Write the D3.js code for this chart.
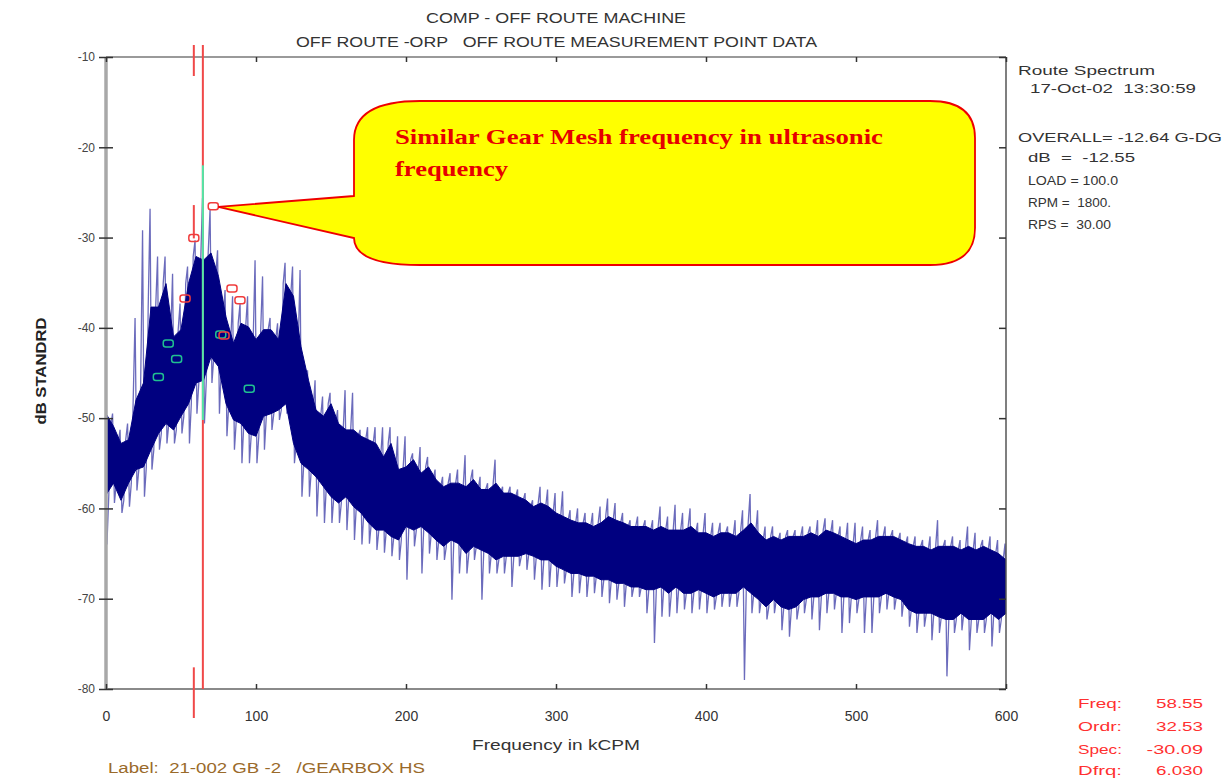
<!DOCTYPE html>
<html>
<head>
<meta charset="utf-8">
<script src="https://cdn.jsdelivr.net/npm/d3@7"></script>
<style>
  body { margin: 0; background: #fff; }
  text { font-family: Arial, "Liberation Sans", sans-serif; white-space: pre; }
  text.serif { font-family: "Liberation Serif", "Times New Roman", serif; }
</style>
</head>
<body>
<svg id="chart" width="1231" height="779"></svg>
<script>
// Spectrum, one entry per 5 kCPM bin from 0 to 600.
// peak/trough = tips of the thin spikes, coreHi/coreLo = edges of the dense band (dB)
var binWidth = 5;
var peakDb = [
  -49.0, -49.5, -51.3, -50.6, -38.9, -29.2, -26.8, -32.1, -32.1, -34.0,
  -37.3, -33.2, -30.3, -25.6, -26.9, -31.4, -35.8, -36.5, -37.3, -36.5,
  -32.5, -34.3, -38.9, -39.5, -32.8, -33.2, -33.6, -44.7, -45.8, -47.6,
  -47.2, -49.1, -46.9, -47.2, -51.3, -51.0, -51.0, -51.0, -51.0, -52.0,
  -52.0, -53.9, -53.2, -54.3, -55.7, -56.5, -56.1, -55.7, -54.1, -55.7,
  -56.5, -57.2, -54.6, -57.6, -57.6, -57.9, -58.3, -59.1, -57.6, -57.9,
  -58.3, -58.1, -60.2, -60.0, -60.5, -60.5, -59.8, -58.9, -59.4, -60.5,
  -61.3, -60.9, -61.3, -61.3, -59.8, -60.9, -59.6, -60.5, -60.0, -61.6,
  -60.5, -61.6, -61.6, -62.0, -61.3, -60.2, -58.4, -60.2, -62.0, -62.0,
  -62.7, -62.4, -62.4, -62.0, -62.0, -61.3, -61.1, -61.3, -62.0, -61.6,
  -61.6, -62.0, -62.4, -61.3, -62.0, -62.4, -62.7, -63.1, -63.1, -63.5,
  -63.1, -61.3, -63.5, -63.1, -63.5, -62.0, -62.7, -63.5, -63.1, -63.5,
  -63.9
];
var coreHiDb = [
  -49.5, -50.9, -52.8, -52.4, -48.0, -46.1, -37.7, -37.7, -35.1, -41.0,
  -40.2, -35.1, -32.1, -32.5, -31.7, -34.3, -38.8, -41.7, -39.5, -39.9,
  -41.3, -40.2, -40.2, -41.3, -35.1, -36.5, -42.1, -45.8, -49.1, -49.8,
  -48.4, -50.6, -51.3, -51.3, -52.0, -52.4, -52.8, -54.3, -52.8, -55.7,
  -55.4, -54.6, -56.1, -55.4, -56.8, -57.6, -57.2, -57.2, -57.6, -56.8,
  -57.9, -57.9, -57.2, -58.3, -58.3, -58.7, -59.1, -59.8, -59.4, -59.8,
  -60.5, -60.9, -61.3, -61.6, -61.6, -62.0, -61.6, -60.9, -61.3, -61.6,
  -62.0, -62.0, -62.0, -62.4, -62.0, -62.4, -62.4, -62.4, -62.0, -62.7,
  -62.7, -63.1, -62.7, -62.7, -63.1, -62.4, -61.6, -62.7, -63.5, -63.1,
  -63.5, -63.1, -63.1, -63.1, -62.7, -63.1, -62.4, -62.7, -63.1, -63.5,
  -63.9, -63.5, -63.5, -63.1, -63.1, -63.1, -63.5, -63.9, -64.2, -64.2,
  -64.6, -64.2, -64.2, -64.2, -64.6, -64.2, -64.6, -64.2, -64.6, -65.0,
  -65.7
];
var coreLoDb = [
  -58.5, -57.2, -59.1, -57.2, -55.7, -55.4, -53.5, -51.7, -50.6, -51.3,
  -49.8, -48.4, -46.1, -45.8, -43.2, -44.3, -48.4, -50.2, -50.6, -51.7,
  -52.0, -49.8, -49.5, -49.1, -48.4, -52.8, -55.0, -55.7, -56.5, -57.6,
  -58.7, -59.4, -58.7, -59.8, -60.5, -61.6, -62.4, -62.4, -63.1, -63.5,
  -62.0, -62.4, -62.0, -62.7, -63.5, -64.2, -63.5, -63.9, -65.0, -64.2,
  -64.6, -65.0, -65.7, -65.3, -65.3, -65.3, -65.0, -65.3, -65.7, -65.7,
  -66.4, -66.8, -67.2, -67.2, -67.5, -67.5, -67.9, -67.9, -68.3, -68.3,
  -68.7, -68.7, -69.0, -69.0, -68.7, -69.4, -68.7, -69.4, -69.4, -69.0,
  -69.4, -69.8, -69.4, -69.4, -69.4, -68.7, -69.4, -70.1, -70.9, -70.1,
  -70.9, -71.2, -70.9, -70.1, -69.8, -69.8, -69.4, -69.4, -69.8, -69.8,
  -70.1, -69.8, -69.8, -69.8, -69.4, -69.8, -70.1, -71.2, -71.6, -71.6,
  -71.6, -72.0, -72.3, -72.3, -71.6, -72.3, -72.3, -72.3, -71.6, -72.3,
  -71.6
];
var troughDb = [
  -64.0, -59.4, -60.5, -59.8, -58.0, -58.7, -55.7, -53.5, -52.8, -52.8,
  -51.7, -52.8, -49.5, -50.6, -46.1, -49.5, -52.0, -53.5, -55.0, -55.0,
  -55.0, -53.5, -51.3, -50.2, -49.5, -55.0, -58.7, -58.7, -60.9, -61.6,
  -61.6, -61.6, -62.4, -63.5, -64.0, -63.9, -64.6, -64.9, -65.3, -65.7,
  -67.9, -64.2, -67.2, -65.0, -65.7, -65.7, -70.1, -67.2, -67.2, -65.7,
  -70.1, -67.2, -67.2, -67.2, -68.7, -66.4, -66.8, -67.9, -69.0, -68.7,
  -68.7, -68.3, -69.8, -69.4, -69.8, -69.4, -69.8, -70.5, -70.1, -70.9,
  -69.8, -69.8, -71.6, -74.9, -72.0, -72.0, -71.6, -71.2, -71.6, -71.2,
  -71.6, -71.2, -70.9, -70.9, -70.9, -79.0, -71.6, -71.6, -72.3, -71.6,
  -73.5, -74.2, -72.3, -71.6, -72.3, -73.5, -71.6, -71.2, -73.8, -72.7,
  -71.6, -73.8, -73.8, -71.6, -71.2, -71.2, -72.0, -73.1, -73.8, -73.1,
  -74.6, -73.8, -78.6, -73.8, -73.5, -75.7, -73.8, -73.8, -75.3, -73.8,
  -72.7
];

// harmonic / sideband markers
var redMarkFreq = [71.5, 58.55, 52.7, 84.0, 89.3, 78.7];
var redMarkDb = [-26.6, -30.09, -36.8, -35.7, -37.0, -40.9];
var greenMarkFreq = [41.5, 47.1, 34.9, 95.5, 76.5];
var greenMarkDb = [-41.8, -43.5, -45.5, -46.8, -40.8];

// cursor readout
var cursorFreq = 58.55, cursorOrder = 32.53, cursorSpec = -30.09, cursorDfrq = 6.030;
var xTicks = [0, 100, 200, 300, 400, 500, 600];
var yTicks = [-10, -20, -30, -40, -50, -60, -70, -80];

var infoLines = [
  ["Route Spectrum", 1018, 75, 137],
  ["17-Oct-02  13:30:59", 1030, 93, 166],
  ["OVERALL= -12.64 G-DG", 1018, 142, 204],
  ["dB  =  -12.55", 1028, 162, 107],
  ["LOAD = 100.0", 1028, 185, 90],
  ["RPM =  1800.", 1028, 207, 83],
  ["RPS =  30.00", 1028, 229, 83]
];

var svg = d3.select("#chart");
var navy = "#000080";

var x = d3.scaleLinear().domain([0, 600]).range([106, 1006]);
var y = d3.scaleLinear().domain([-80, -10]).range([689, 57]);

function label(g, str, px, py, len, size, color, anchor) {
  return g.append("text")
    .attr("x", px).attr("y", py)
    .attr("font-size", size)
    .attr("fill", color)
    .attr("text-anchor", anchor || "start")
    .attr("textLength", len)
    .attr("lengthAdjust", "spacingAndGlyphs")
    .text(str);
}

svg.append("defs").append("clipPath").attr("id", "plotclip")
  .append("rect")
  .attr("x", x(0)).attr("y", y(-10))
  .attr("width", x(600) - x(0)).attr("height", y(-80) - y(-10));

var plot = svg.append("g").attr("clip-path", "url(#plotclip)");

// spikes: min/max zig-zag through each bin
var zig = [];
peakDb.forEach(function(p, i) {
  var f = i * binWidth;
  zig.push([f - binWidth * 0.375, coreHiDb[i]]);
  zig.push([f - binWidth * 0.125, p]);
  zig.push([f + binWidth * 0.125, troughDb[i]]);
  zig.push([f + binWidth * 0.375, coreLoDb[i]]);
});

plot.append("path")
  .datum(zig)
  .attr("fill", "none")
  .attr("stroke", "#3a3aa6")
  .attr("stroke-opacity", 0.75)
  .attr("stroke-width", 1.3)
  .attr("d", d3.line().x(function(d) { return x(d[0]); }).y(function(d) { return y(d[1]); }));

// dense band
plot.append("path")
  .datum(coreHiDb.map(function(h, i) { return i; }))
  .attr("fill", navy)
  .attr("stroke", navy)
  .attr("stroke-width", 1)
  .attr("d", d3.area()
    .x(function(i) { return x(i * binWidth); })
    .y0(function(i) { return y(coreLoDb[i]); })
    .y1(function(i) { return y(coreHiDb[i]); }));

// frame
var frame = svg.append("g");
frame.append("line").attr("x1", x(0)).attr("x2", x(600)).attr("y1", y(-10)).attr("y2", y(-10))
  .attr("stroke", "#9a9a9a").attr("stroke-width", 2);
frame.append("line").attr("x1", x(0)).attr("x2", x(600)).attr("y1", y(-80)).attr("y2", y(-80))
  .attr("stroke", "#8a8a8a").attr("stroke-width", 2);
frame.append("line").attr("x1", x(0)).attr("x2", x(0)).attr("y1", y(-10)).attr("y2", y(-80))
  .attr("stroke", "#a8a8a8").attr("stroke-width", 3.5);
frame.append("line").attr("x1", x(600)).attr("x2", x(600)).attr("y1", y(-10)).attr("y2", y(-80))
  .attr("stroke", "#555").attr("stroke-width", 1.5);

// axes
var yAxis = svg.append("g")
  .attr("transform", "translate(" + x(0) + ",0)")
  .call(d3.axisLeft(y).tickValues(yTicks).tickSize(7).tickPadding(4)
    .tickFormat(function(d) { return String(d); }));
svg.append("g")
  .attr("transform", "translate(" + x(0) + ",0)")
  .call(d3.axisRight(y).tickValues(yTicks).tickSize(7).tickFormat(""));
svg.append("g")
  .attr("transform", "translate(" + x(600) + ",0)")
  .call(d3.axisLeft(y).tickValues(yTicks).tickSize(7).tickFormat(""));
var xAxis = svg.append("g")
  .attr("transform", "translate(0," + y(-80) + ")")
  .call(d3.axisBottom(x).tickValues(xTicks).tickSize(-5).tickPadding(22)
    .tickFormat(function(d) { return String(d); }));
svg.append("g")
  .attr("transform", "translate(0," + y(-10) + ")")
  .call(d3.axisTop(x).tickValues(xTicks).tickSize(-5).tickFormat(""));

svg.selectAll(".domain").remove();
svg.selectAll(".tick line").attr("stroke", "#333").attr("stroke-width", 1.5);
yAxis.selectAll("text").attr("font-size", 12).attr("fill", "#444");
xAxis.selectAll("text").attr("font-size", 14).attr("fill", "#333");

// cursors
var cur2 = cursorFreq + cursorDfrq;
var cursors = svg.append("g").attr("stroke-width", 2);
cursors.append("line").attr("x1", x(cur2)).attr("x2", x(cur2))
  .attr("y1", 45).attr("y2", y(-80)).attr("stroke", "#f04848");
cursors.append("line").attr("x1", x(cur2)).attr("x2", x(cur2))
  .attr("y1", y(-22.0)).attr("y2", y(-50.2)).attr("stroke", "#50e8a8");
cursors.append("line").attr("x1", x(cursorFreq)).attr("x2", x(cursorFreq))
  .attr("y1", 45).attr("y2", 76).attr("stroke", "#f04848");
cursors.append("line").attr("x1", x(cursorFreq)).attr("x2", x(cursorFreq))
  .attr("y1", y(-77.6)).attr("y2", 718).attr("stroke", "#f04848");
cursors.append("line").attr("x1", x(cursorFreq)).attr("x2", x(cursorFreq))
  .attr("y1", y(-26.4)).attr("y2", y(cursorSpec)).attr("stroke", "#f04848");

// markers
function markers(fs, dbs, color) {
  svg.append("g").selectAll("rect")
    .data(fs)
    .enter().append("rect")
    .attr("x", function(f) { return x(f) - 5; })
    .attr("y", function(f, i) { return y(dbs[i]) - 4; })
    .attr("width", 10).attr("height", 7).attr("rx", 2.5)
    .attr("fill", "none")
    .attr("stroke", color).attr("stroke-width", 1.5);
}
markers(greenMarkFreq, greenMarkDb, "#20c090");
markers(redMarkFreq, redMarkDb, "#f03c3c");

// callout pointing at the red marker at ~72 kCPM
var tipX = x(redMarkFreq[0]) + 5, tipY = y(redMarkDb[0]);
var callout = d3.path();
callout.moveTo(354, 196);
callout.lineTo(tipX, tipY);
callout.lineTo(354, 238);
callout.quadraticCurveTo(354, 265, 420, 265);
callout.lineTo(930, 265);
callout.quadraticCurveTo(975, 265, 975, 228);
callout.lineTo(975, 138);
callout.quadraticCurveTo(975, 101, 930, 101);
callout.lineTo(420, 101);
callout.quadraticCurveTo(354, 101, 354, 140);
callout.closePath();
svg.append("path")
  .attr("d", callout.toString())
  .attr("fill", "#ffff00")
  .attr("stroke", "#ee0000")
  .attr("stroke-width", 1.8);

var note = svg.append("g").attr("font-weight", "bold");
label(note, "Similar Gear Mesh frequency in ultrasonic", 395, 144, 488, 22, "#e60000")
  .attr("class", "serif");
label(note, "frequency", 395, 176, 113, 22, "#e60000")
  .attr("class", "serif");

// titles
label(svg, "COMP - OFF ROUTE MACHINE", 426, 23, 260, 14, "#333");
label(svg, "OFF ROUTE -ORP   OFF ROUTE MEASUREMENT POINT DATA", 296, 47, 521, 14, "#333");
label(svg, "Frequency in kCPM", 472, 750, 168, 14, "#333");
label(svg, "Label:  21-002 GB -2   /GEARBOX HS", 108, 773, 317, 14, "#9a6a2a");

svg.append("text")
  .attr("transform", "translate(46,371) rotate(-90)")
  .attr("text-anchor", "middle")
  .attr("font-size", 14)
  .attr("font-weight", "bold")
  .attr("fill", "#222")
  .attr("textLength", 107)
  .attr("lengthAdjust", "spacingAndGlyphs")
  .text("dB STANDRD");

// info panel
infoLines.forEach(function(l) {
  label(svg, l[0], l[1], l[2], l[3], 13, "#333");
});

// cursor readout
var readout = [
  ["Freq:", cursorFreq.toFixed(2), 708],
  ["Ordr:", cursorOrder.toFixed(2), 731],
  ["Spec:", cursorSpec.toFixed(2), 754],
  ["Dfrq:", cursorDfrq.toFixed(3), 775]
];
readout.forEach(function(r) {
  label(svg, r[0], 1078, r[2], 44, 13, "#ff3030");
  label(svg, r[1], 1203, r[2], r[1].length * 9.4, 13, "#ff3030", "end");
});
</script>
</body>
</html>
